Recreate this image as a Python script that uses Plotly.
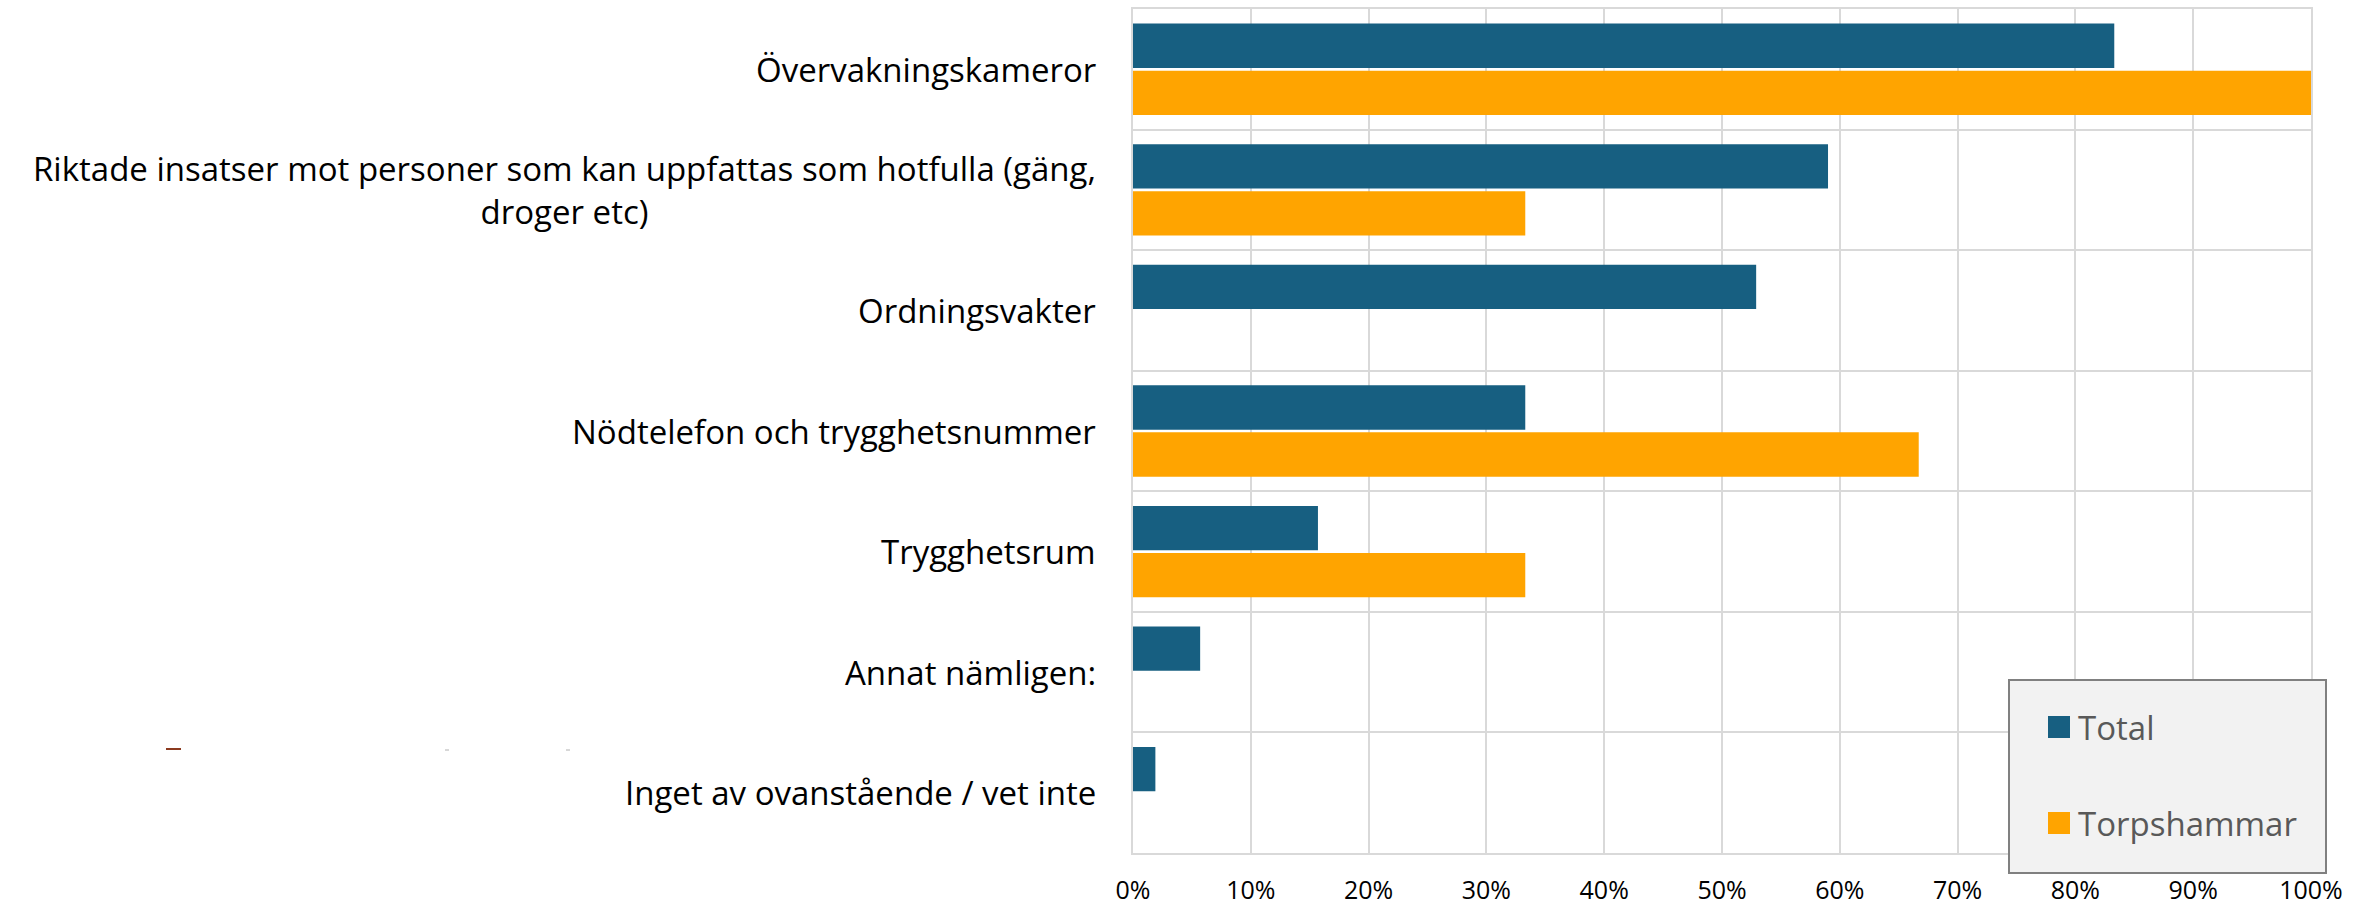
import plotly.graph_objects as go

# Survey answers (share of respondents)
categories = [
    "Övervakningskameror",
    "Riktade insatser mot personer som kan uppfattas som hotfulla (gäng,<br>droger etc)",
    "Ordningsvakter",
    "Nödtelefon och trygghetsnummer",
    "Trygghetsrum",
    "Annat nämligen:",
    "Inget av ovanstående / vet inte",
]
total = [0.833, 0.590, 0.529, 0.333, 0.157, 0.057, 0.019]
torpshammar = [1.0, 0.333, None, 0.667, 0.333, None, None]

series_names = ["Total", "Torpshammar"]
series_colors = ["#175f81", "#ffa400"]

tick_vals = [i / 10 for i in range(11)]
tick_text = [f"{i * 10}%" for i in range(11)]

FONT = "Open Sans"
W, H = 2368, 906
L, R, T, B = 1133, 57, 9, 53
PW, PH = W - L - R, H - T - B


def px(xp):
    return (xp - L) / PW


def py(yp):
    return (H - B - yp) / PH


fig = go.Figure()
for name, vals, col in zip(series_names, [total, torpshammar], series_colors):
    fig.add_trace(go.Bar(
        y=categories, x=vals, name=name, orientation="h",
        marker=dict(color=col, line=dict(width=0)),
        showlegend=False,
    ))

grid = "#d9d9d9"
fig.update_layout(
    width=W, height=H,
    margin=dict(l=L, r=R, t=T, b=B, autoexpand=False),
    paper_bgcolor="white", plot_bgcolor="white",
    barmode="group", bargap=0.22, bargroupgap=0.057,
    font=dict(family=FONT, color="#000000"),
    xaxis=dict(
        range=[0, 1], tickvals=tick_vals, ticktext=tick_text,
        showgrid=True, gridcolor=grid, gridwidth=2,
        zeroline=False, showline=True, mirror=True,
        linecolor=grid, linewidth=2, automargin=False,
        ticks="", ticklabelstandoff=14,
        tickfont=dict(family=FONT, size=25, color="#000000"),
    ),
    yaxis=dict(
        type="category", categoryorder="array", categoryarray=categories,
        autorange="reversed", tickson="boundaries",
        showgrid=True, gridcolor=grid, gridwidth=2,
        showline=True, mirror=True, linecolor=grid, linewidth=2,
        showticklabels=False, ticks="", automargin=False,
    ),
)

# Category labels, right aligned beside the plot, lines centred
for cat in categories:
    fig.add_annotation(
        x=0, xref="paper", y=cat, yref="y",
        text=cat, showarrow=False, xanchor="right", yanchor="middle",
        xshift=-35, align="center",
        font=dict(family=FONT, size=33, color="#000000"),
    )

# Legend box
fig.add_shape(type="rect", xref="paper", yref="paper",
              x0=px(2009), x1=px(2326), y0=py(873), y1=py(680),
              fillcolor="#f2f2f2", line=dict(color="#808080", width=2), layer="above")
for name, col, yc in zip(series_names, series_colors, [727, 823]):
    fig.add_shape(type="rect", xref="paper", yref="paper",
                  x0=px(2048), x1=px(2070), y0=py(yc + 11), y1=py(yc - 11),
                  fillcolor=col, line=dict(width=0), layer="above")
    fig.add_annotation(
        x=px(2076), xref="paper", y=py(yc), yref="paper",
        text=name, showarrow=False, xanchor="left", yanchor="middle",
        font=dict(family=FONT, size=33, color="#595959"),
    )

# Small stray marks left of the last label
fig.add_shape(type="line", xref="paper", yref="paper",
              x0=px(166), x1=px(181), y0=py(749), y1=py(749),
              line=dict(color="#8b3a1f", width=2))
for xm in (447, 568):
    fig.add_shape(type="line", xref="paper", yref="paper",
                  x0=px(xm - 2), x1=px(xm + 2), y0=py(750), y1=py(750),
                  line=dict(color="#b0b0b0", width=1))

fig.write_html("out.html")
